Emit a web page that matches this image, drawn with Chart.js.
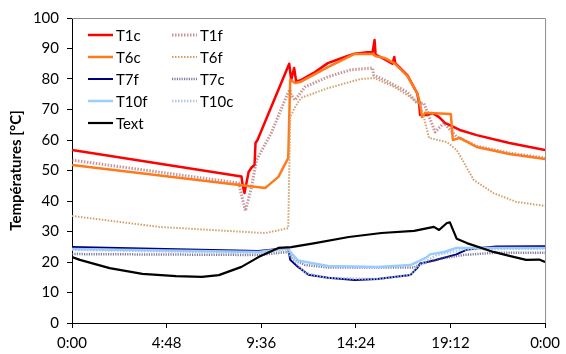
<!DOCTYPE html>
<html>
<head>
<meta charset="utf-8">
<script src="https://cdn.jsdelivr.net/npm/chart.js@4/dist/chart.umd.min.js"></script>
<style>
  html, body { margin: 0; padding: 0; background: #fff; }
  #c { display: block; }
</style>
</head>
<body>
<canvas id="c" width="566" height="354"></canvas>
<script>
// ---- Data: [hour of day, temperature °C] ----
const seriesNames = ["T1c", "T1f", "T6c", "T6f", "T7f", "T7c", "T10f", "T10c", "Text"];

const T1c = [[0,56.7],[8.6,48.0],[8.65,45.5],[8.75,42.6],[8.96,49.5],[9.11,51],[9.26,51.8],[9.31,59],[9.41,60],[11.02,85],[11.12,79.7],[11.27,83.6],[11.37,79.3],[11.57,79.5],[12.33,82.3],[12.98,85.2],[13.84,87.2],[14.34,88.3],[14.99,88.8],[15.25,88.8],[15.35,92.8],[15.4,88],[15.85,86.5],[16.25,85],[16.35,87.2],[16.4,85.2],[17.01,81.3],[17.51,75.4],[17.61,72.1],[17.66,68.2],[18.01,68.2],[18.3,68.8],[18.62,67.5],[18.92,65.6],[19.67,63.3],[20.53,61.6],[22.19,59],[24,56.7]];
const T1f = [[0,53.4],[8.45,45.9],[8.8,36.8],[9.11,44.6],[9.36,53.4],[10.11,62.3],[10.97,75.7],[11.07,76.4],[11.12,74.8],[11.32,73.1],[11.82,77.4],[12.98,80.7],[14.14,83],[15.25,83.6],[15.3,81.3],[15.85,79.7],[16.35,78],[17.01,75.7],[17.51,72.1],[17.86,72],[18.42,62.6],[18.87,65.6],[19.52,61],[20.53,58],[22.19,55.7],[24,54.1]];
const T6c = [[0,51.8],[8.6,45.2],[9.81,44.3],[10.47,47.9],[10.97,54.1],[11.07,79.7],[11.32,78.7],[11.57,79],[12.98,83.9],[14.34,88.2],[15.25,88.2],[15.4,87.5],[15.85,86.9],[16.35,85.2],[17.01,81],[17.51,75.4],[17.66,72],[17.76,67.5],[17.91,68.9],[19.22,68.5],[19.32,60],[19.67,60.7],[20.53,57.7],[22.19,55.4],[24,53.8]];
const T6f = [[0,35.1],[4.43,31.5],[9.46,29.6],[9.81,29.5],[10.97,31.1],[11.07,67.5],[11.32,70.8],[11.62,73.8],[12.98,77],[14.64,80],[15.35,80.3],[16.35,77.4],[17.16,74.1],[17.66,71.5],[17.76,69.8],[18.11,60.7],[19.02,59.3],[19.52,56.7],[20.38,46.9],[21.38,42.6],[22.54,39.7],[24,38.4]];
const T7f = [[0,24.9],[9.46,23.6],[10.97,24.6],[11.07,20.7],[11.47,18.4],[12.0,15.8],[12.98,14.8],[14.34,14.1],[15.5,14.4],[17.16,15.7],[17.51,18],[17.66,19.5],[18.36,20.5],[19.5,22.5],[20.0,24],[20.68,24.6],[21.53,25.1],[24,25.2]];
const T7c = [[0,22.6],[9.46,22.3],[10.97,23.3],[11.2,21],[11.82,19],[12.98,18.2],[17.36,18.2],[17.6,19],[18.01,20],[18.87,21.3],[19.87,22.3],[21.38,23],[24,23]];
const T10f = [[0,24.3],[9.46,23.3],[10.97,24.5],[11.07,23.3],[11.47,20.5],[12.98,18.7],[15.5,18.4],[17.16,19],[17.51,20],[18.01,21.6],[18.16,22.5],[18.87,23.3],[19.5,24.6],[24,24.6]];
const T10c = [[0,24.0],[9.46,23.0],[10.97,24.2],[11.07,22],[11.82,16.4],[12.98,14.8],[15.5,14.4],[17.16,15.8],[17.51,18.5],[18.5,22.3],[20,24.2],[24,24.4]];
const Text = [[0,21.6],[0.4,20.7],[1.91,18],[3.57,16.1],[5.28,15.4],[6.59,15.1],[7.45,15.7],[8.6,18.4],[9.46,21.6],[10.47,24.6],[11.12,24.9],[12.33,26.2],[14.04,28.2],[15.7,29.5],[17.36,30.2],[18.36,31.5],[18.62,30.5],[19.02,32.8],[19.17,33],[19.52,27.6],[20.03,26.2],[21.38,23.3],[22.19,22],[23.04,20.7],[23.7,20.8],[24,20]];

const xTickHours = [0, 4.8, 9.6, 14.4, 19.2, 24];
const yTicks = [0, 10, 20, 30, 40, 50, 60, 70, 80, 90, 100];

const seriesData = { T1c, T1f, T6c, T6f, T7f, T7c, T10f, T10c, Text };

const styles = {
  T1c:  { color: '#FF0000', width: 2.5, dash: [] },
  T1f:  { color: 'rgba(160,80,85,0.6)', width: 3, dash: [1.5, 1.5] },
  T6c:  { color: '#FF7A1A', width: 2.5, dash: [] },
  T6f:  { color: '#D4A06A', width: 2, dash: [1.5, 1.5] },
  T7f:  { color: '#00007F', width: 2, dash: [] },
  T7c:  { color: 'rgba(80,80,130,0.75)', width: 2.5, dash: [1.2, 1.2] },
  T10f: { color: '#99CCFF', width: 2.5, dash: [] },
  T10c: { color: 'rgba(170,195,225,0.9)', width: 2.5, dash: [1.5, 1.5] },
  Text: { color: '#000000', width: 2.2, dash: [] }
};

const n = seriesNames.length;
const datasets = seriesNames.map((name, i) => ({
  label: name,
  data: seriesData[name].map(p => ({ x: p[0], y: p[1] })),
  borderColor: styles[name].color,
  borderWidth: styles[name].width,
  borderDash: styles[name].dash,
  borderJoinStyle: 'round',
  pointRadius: 0,
  tension: 0,
  fill: false,
  order: n - 1 - i
}));

function fmtHour(h) {
  let mins = Math.round(h * 60) % (24 * 60);
  const hh = Math.floor(mins / 60);
  const mm = mins % 60;
  return hh + ':' + String(mm).padStart(2, '0');
}

const frameAndLegend = {
  id: 'frameAndLegend',
  beforeDatasetsDraw(chart) {
    const { ctx, chartArea: a } = chart;
    ctx.save();
    ctx.strokeStyle = '#8C8C8C';
    ctx.lineWidth = 1;
    ctx.beginPath();
    ctx.moveTo(a.left, a.top + 0.5);
    ctx.lineTo(a.right + 0.5, a.top + 0.5);
    ctx.lineTo(a.right + 0.5, a.bottom);
    ctx.stroke();
    ctx.restore();
  },
  afterDraw(chart) {
    const { ctx } = chart;
    ctx.save();
    const rows = [35, 57, 79, 101, 123];
    const cols = [{ l0: 88, l1: 113, t: 116 }, { l0: 172, l1: 197, t: 200 }];
    ctx.font = '15px Lato';
    ctx.textBaseline = 'middle';
    ctx.textAlign = 'left';
    chart.data.datasets.forEach((ds, i) => {
      const r = Math.floor(i / 2), c = i % 2;
      const y = rows[r], col = cols[c];
      ctx.beginPath();
      ctx.strokeStyle = ds.borderColor;
      ctx.lineWidth = ds.borderWidth;
      ctx.setLineDash(ds.borderDash || []);
      ctx.moveTo(col.l0, y);
      ctx.lineTo(col.l1, y);
      ctx.stroke();
      ctx.setLineDash([]);
      ctx.fillStyle = '#000';
      ctx.fillText(ds.label, col.t, y + 1);
    });
    ctx.restore();
  }
};

new Chart(document.getElementById('c'), {
  type: 'line',
  data: { datasets },
  options: {
    responsive: false,
    animation: false,
    layout: { padding: { left: 0, right: 17, top: 18, bottom: 0 } },
    plugins: { legend: { display: false }, tooltip: { enabled: false } },
    scales: {
      x: {
        type: 'linear',
        min: 0, max: 24,
        afterBuildTicks(scale) { scale.ticks = xTickHours.map(v => ({ value: v })); },
        afterFit(scale) { scale.height = 31; },
        ticks: {
          callback: v => fmtHour(v),
          font: { family: 'Lato', size: 15 },
          color: '#000',
          padding: 6,
          maxRotation: 0,
          autoSkip: false
        },
        grid: { drawOnChartArea: false, drawTicks: true, tickLength: 5, color: '#000' },
        border: { display: true, color: '#000', width: 1 }
      },
      y: {
        min: 0, max: 100,
        afterBuildTicks(scale) { scale.ticks = yTicks.map(v => ({ value: v })); },
        afterFit(scale) { scale.width = 72; },
        ticks: {
          font: { family: 'Lato', size: 15 },
          color: '#000',
          padding: 8
        },
        title: {
          display: true,
          text: 'Températures [°C]',
          font: { family: 'Lato', size: 15, weight: 'bold' },
          color: '#000',
          padding: { top: 7, bottom: 0 }
        },
        grid: { drawOnChartArea: false, drawTicks: true, tickLength: 5, color: '#000' },
        border: { display: true, color: '#000', width: 1 }
      }
    }
  },
  plugins: [frameAndLegend]
});
</script>
</body>
</html>
